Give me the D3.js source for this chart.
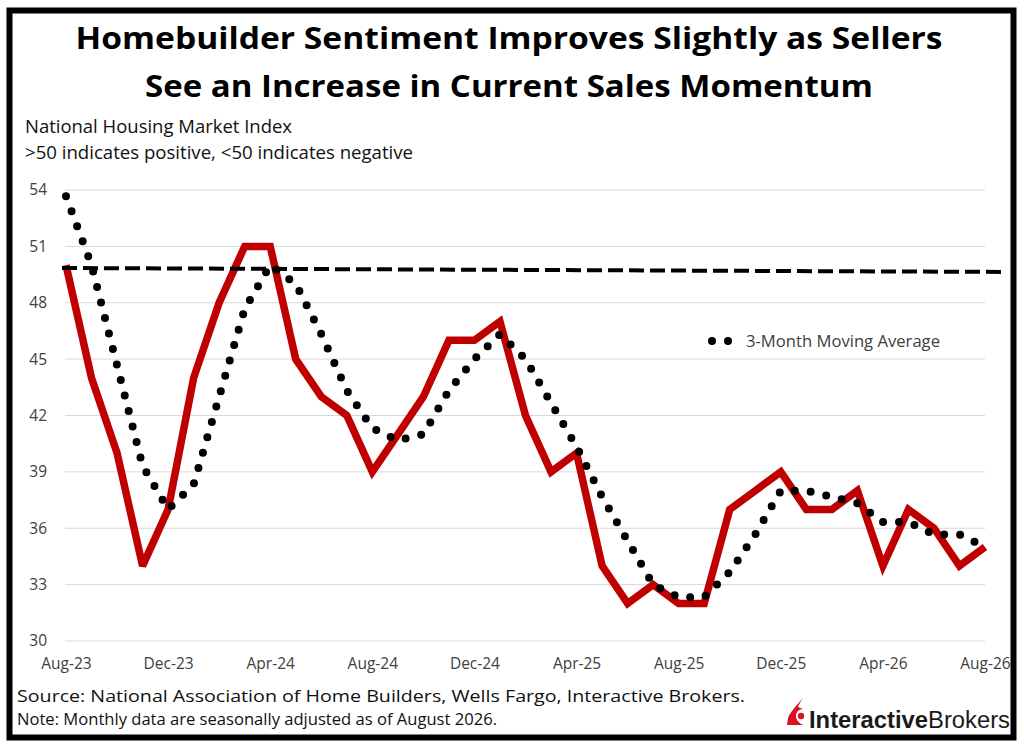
<!DOCTYPE html>
<html><head><meta charset="utf-8">
<script src="https://cdn.jsdelivr.net/npm/d3@7/dist/d3.min.js"></script>
<style>
html,body{margin:0;padding:0;background:#fff;}
svg{display:block;}
</style></head>
<body>
<svg id="chart" width="1024" height="746"></svg>
<script>
const months = ["Aug-23","Sep-23","Oct-23","Nov-23","Dec-23","Jan-24","Feb-24","Mar-24","Apr-24","May-24","Jun-24","Jul-24",
"Aug-24","Sep-24","Oct-24","Nov-24","Dec-24","Jan-25","Feb-25","Mar-25","Apr-25","May-25","Jun-25","Jul-25",
"Aug-25","Sep-25","Oct-25","Nov-25","Dec-25","Jan-26","Feb-26","Mar-26","Apr-26","May-26","Jun-26","Jul-26","Aug-26"];
const hmiValues = [50,44,40,34,37,44,48,51,51,45,43,42,39,41,43,46,46,47,42,39,40,34,32,33,32,32,37,38,39,37,37,38,34,37,36,34,35];
const movingAvg = [53.67,50,44.67,39.33,37,38.33,43,47.67,50,49,46.33,43.33,41.33,40.67,41,43.33,45,46.33,45,42.67,40.33,37.67,35.33,33,32.33,32.33,33.67,35.67,38,38,37.67,37.33,36.33,36.33,35.67,35.67,35];
const referenceLine = [49.85, 49.64];
const yTicks = [30,33,36,39,42,45,48,51,54];
const xTickLabels = ["Aug-23","Dec-23","Apr-24","Aug-24","Dec-24","Apr-25","Aug-25","Dec-25","Apr-26","Aug-26"];
const titleLines = ["Homebuilder Sentiment Improves Slightly as Sellers","See an Increase in Current Sales Momentum"];
const subtitleLines = ["National Housing Market Index", ">50 indicates positive, <50 indicates negative"];
const legendLabel = "3-Month Moving Average";
const sourceLines = ["Source: National Association of Home Builders, Wells Fargo, Interactive Brokers.","Note: Monthly data are seasonally adjusted as of August 2026."];

const svg = d3.select("#chart");
const FONT = "'Open Sans', 'Noto Sans', sans-serif";

// frame
svg.append("rect").attr("x",9.5).attr("y",10.5).attr("width",1004).attr("height",727)
  .attr("fill","#fff").attr("stroke","#000").attr("stroke-width",6);

const x = d3.scalePoint().domain(months).range([66, 985]);
const y = d3.scaleLinear().domain([30,54]).range([641,190]);

function fitText(sel, w){ sel.attr("textLength", w).attr("lengthAdjust","spacingAndGlyphs"); return sel; }

// title
const tl = [{t:titleLines[0], yb:49, w:867},{t:titleLines[1], yb:97, w:728}];
tl.forEach(d=>{
  fitText(svg.append("text").attr("x",509).attr("y",d.yb).attr("text-anchor","middle")
    .attr("font-family",FONT).attr("font-weight",700).attr("font-size",30.5).attr("fill","#000").text(d.t), d.w);
});
// subtitle
fitText(svg.append("text").attr("x",25).attr("y",133).attr("font-family",FONT).attr("font-size",17.5).attr("fill","#111").text(subtitleLines[0]),267);
fitText(svg.append("text").attr("x",25).attr("y",159).attr("font-family",FONT).attr("font-size",17.5).attr("fill","#111").text(subtitleLines[1]),388);

// gridlines
svg.append("g").selectAll("line").data(yTicks).join("line")
  .attr("x1",65).attr("x2",985).attr("y1",d=>y(d)).attr("y2",d=>y(d))
  .attr("stroke","#d9d9d9").attr("stroke-width",1);

// y axis
const yAxis = svg.append("g").attr("transform","translate(49,0)")
  .call(d3.axisLeft(y).tickValues(yTicks).tickSize(0).tickPadding(2));
yAxis.select(".domain").remove();
yAxis.selectAll("text").attr("font-family",FONT).attr("font-size",15.5).attr("fill","#404040");

// x axis
const xAxis = svg.append("g").attr("transform","translate(0,655)")
  .call(d3.axisBottom(x).tickValues(xTickLabels).tickSize(0).tickPadding(0));
xAxis.select(".domain").remove();
xAxis.selectAll("text").attr("font-family",FONT).attr("font-size",15.5).attr("fill","#404040").attr("dy","0.92em");

// red line
const line = d3.line().x((d,i)=>x(months[i])).y(d=>y(d));
svg.append("path").datum(hmiValues).attr("d",line).attr("fill","none")
  .attr("stroke","#c00000").attr("stroke-width",7.5).attr("stroke-linejoin","miter").attr("stroke-miterlimit",3);

// moving average dots
svg.append("path").datum(movingAvg).attr("d",line).attr("fill","none")
  .attr("stroke","#000").attr("stroke-width",8).attr("stroke-linecap","round").attr("stroke-dasharray","0 16");

// reference dashed line
const refX = [x(months[0])-4, x(months[months.length-1])+17];
svg.append("line").attr("x1",refX[0]).attr("x2",refX[1]).attr("y1",y(referenceLine[0])).attr("y2",y(referenceLine[1]))
  .attr("stroke","#000").attr("stroke-width",4).attr("stroke-dasharray","15 6");

// legend
const lg = svg.append("g");
lg.selectAll("circle").data([712,728]).join("circle")
  .attr("cx",d=>d).attr("cy",341).attr("r",4).attr("fill","#000");
fitText(lg.append("text").attr("x",746).attr("y",347).attr("font-family",FONT).attr("font-size",15.5).attr("fill","#404040").text(legendLabel),194);

// source
fitText(svg.append("text").attr("x",17).attr("y",702).attr("font-family",FONT).attr("font-size",16).attr("fill","#111").text(sourceLines[0]),728);
fitText(svg.append("text").attr("x",17).attr("y",725).attr("font-family",FONT).attr("font-size",16).attr("fill","#111").text(sourceLines[1]),480);

// logo
const logo = svg.append("g");
logo.append("path").attr("d","M803,698 C797,705 790,712 788,718 L787,725 L803,725 C799,723 796,720 796,716 C796,712 799,709 803,709 L798,707 C799,704 801,701 803,698 Z")
  .attr("fill","#d81222");
logo.append("circle").attr("cx",801).attr("cy",716).attr("r",3.2).attr("fill","#d81222");
const lt = logo.append("text").attr("x",809).attr("y",728).attr("font-family","'Liberation Sans', Arial, sans-serif").attr("font-size",23).attr("fill","#1a1a1a");
lt.append("tspan").attr("font-weight",700).text("Interactive");
lt.append("tspan").attr("font-weight",400).text("Brokers");
lt.attr("textLength",201).attr("lengthAdjust","spacingAndGlyphs");
</script>
</body></html>
